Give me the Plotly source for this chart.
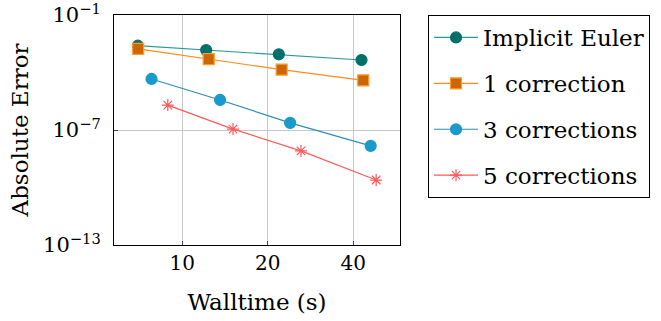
import plotly.graph_objects as go

# Walltime (s) and absolute error for each scheme
walltime_euler = [6.98, 12.15, 21.9, 42.8]
error_euler = [2.5e-3, 1.48e-3, 8.9e-4, 4.5e-4]

walltime_1corr = [7.0, 12.4, 22.4, 43.4]
error_1corr = [1.7e-3, 5.0e-4, 1.4e-4, 3.9e-5]

walltime_3corr = [7.8, 13.6, 24.0, 46.1]
error_3corr = [4.6e-5, 3.7e-6, 2.35e-7, 1.48e-8]

walltime_5corr = [8.9, 15.1, 26.2, 48.2]
error_5corr = [2.0e-6, 1.12e-7, 8.1e-9, 2.45e-10]

series_names = ["Implicit Euler", "1 correction", "3 corrections", "5 corrections"]

x_tick_vals = [10, 20, 40]
x_tick_text = ["10", "20", "40"]
y_tick_vals = [1e-1, 1e-7, 1e-13]
y_tick_text = ["10<sup>−1</sup>", "10<sup>−7</sup>", "10<sup>−13</sup>"]

FONT = "DejaVu Serif"

styles = [
    dict(line="#2a9c98", fill="#00706a", edge="#00706a", symbol="circle", size=11),
    dict(line="#ff8c1a", fill="#cc6600", edge="#ff9933", symbol="square", size=11),
    dict(line="#2b8fb5", fill="#1a9acb", edge="#1a9acb", symbol="circle", size=11),
    dict(line="#ff5a5a", fill="#ff5a5a", edge="#ff5a5a", symbol="asterisk-open", size=10),
]

datasets = [
    (walltime_euler, error_euler),
    (walltime_1corr, error_1corr),
    (walltime_3corr, error_3corr),
    (walltime_5corr, error_5corr),
]

fig = go.Figure()
for name, (xs, ys), st in zip(series_names, datasets, styles):
    fig.add_trace(go.Scatter(
        x=xs, y=ys, name=name, legendgroup=name,
        mode="lines+markers",
        line=dict(color=st["line"], width=1.2),
        marker=dict(symbol=st["symbol"], size=st["size"], color=st["fill"],
                    line=dict(color=st["edge"], width=1.2)),
    ))

fig.update_layout(
    width=661, height=321,
    margin=dict(l=114, r=261, t=15, b=76, autoexpand=False),
    paper_bgcolor="white", plot_bgcolor="white",
    font=dict(family=FONT, size=20, color="black"),
    legend=dict(
        x=1.098, y=1.0, xanchor="left", yanchor="top",
        bordercolor="black", borderwidth=1, bgcolor="white",
        font=dict(family=FONT, size=23),
        tracegroupgap=13,
        itemwidth=44,
    ),
    showlegend=True,
)

fig.update_xaxes(
    type="log", range=[0.760, 1.767],
    tickvals=x_tick_vals, ticktext=x_tick_text,
    showgrid=True, gridcolor="#c8c8c8", gridwidth=1,
    showline=True, linecolor="black", linewidth=1, mirror=True,
    ticks="inside", ticklen=4, tickcolor="#444",
    tickfont=dict(family=FONT, size=20),
    automargin=False,
    zeroline=False,
    title=dict(text="Walltime (s)", font=dict(family=FONT, size=23), standoff=19),
)
fig.update_yaxes(
    type="log", range=[-13.0005, -0.9995],
    tickvals=y_tick_vals, ticktext=y_tick_text,
    showgrid=True, gridcolor="#c8c8c8", gridwidth=1,
    showline=True, linecolor="black", linewidth=1, mirror=True,
    ticks="inside", ticklen=4, tickcolor="#444",
    tickfont=dict(family=FONT, size=21),
    ticklabeloverflow="allow",
    ticklabelstandoff=8,
    automargin=False,
    zeroline=False,
    title=dict(text="Absolute Error", font=dict(family=FONT, size=23), standoff=8),
)

fig.write_html("out.html")
